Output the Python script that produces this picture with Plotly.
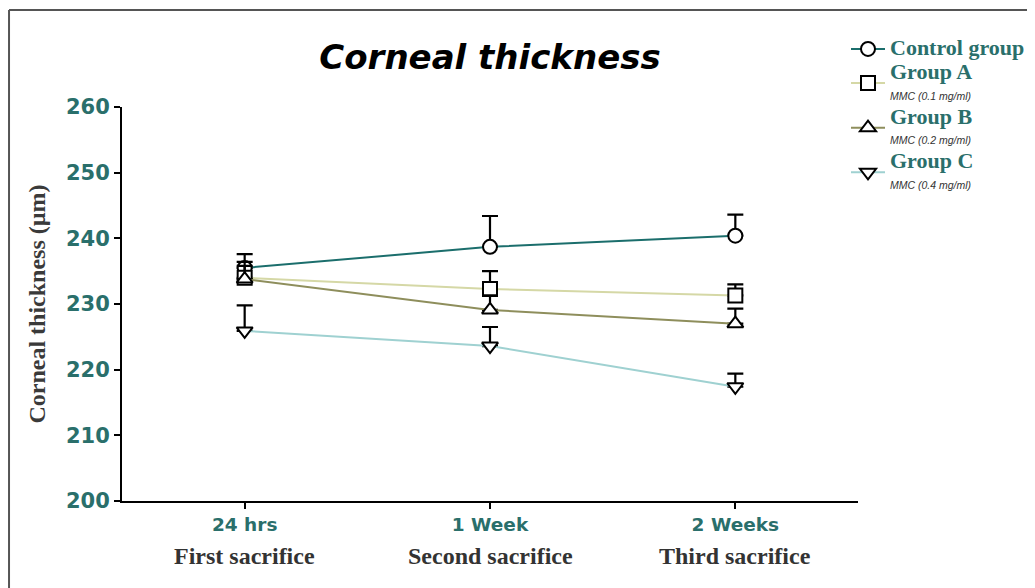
import plotly.graph_objects as go

# ---- data ----
time_points = ["24 hrs", "1 Week", "2 Weeks"]
sacrifice_labels = ["First sacrifice", "Second sacrifice", "Third sacrifice"]

control_mean = [235.5, 238.7, 240.4]
control_err = [2.1, 4.7, 3.2]
group_a_mean = [234.0, 232.3, 231.3]
group_a_err = [2.4, 2.7, 1.7]
group_b_mean = [233.8, 229.1, 227.0]
group_b_err = [2.0, 2.2, 2.3]
group_c_mean = [225.9, 223.6, 217.4]
group_c_err = [3.9, 2.9, 2.0]

series_names = ["Control group", "Group A", "Group B", "Group C"]
series_sub = ["", "MMC (0.1 mg/ml)", "MMC (0.2 mg/ml)", "MMC (0.4 mg/ml)"]
series_means = [control_mean, group_a_mean, group_b_mean, group_c_mean]
series_errs = [control_err, group_a_err, group_b_err, group_c_err]
line_colors = ["#1b6e6c", "#d5d8a6", "#8e8e5c", "#9fd1d1"]
symbols = ["circle", "square", "triangle-up", "triangle-down"]

y_ticks = [200, 210, 220, 230, 240, 250, 260]

TEAL = "#2a6f6b"
fig = go.Figure()

for name, sub, means, errs, col, sym in zip(series_names, series_sub, series_means,
                                           series_errs, line_colors, symbols):
    label = f"<span style='font-size:22px'><b>{name}</b></span>"
    if sub:
        label += ("<br><span style='font-family:Liberation Sans;font-size:10.5px;"
                  f"color:#333;font-style:italic'>{sub}</span>")
    fig.add_trace(go.Scatter(
        x=time_points, y=means, name=label, mode="lines+markers",
        line=dict(color=col, width=2),
        marker=dict(symbol=sym, size=14, color="white",
                    line=dict(color="black", width=2)),
        error_y=dict(type="data", symmetric=False, array=errs,
                     arrayminus=[0] * len(errs), color="black",
                     thickness=2.2, width=8),
    ))

for tp, lab in zip(time_points, sacrifice_labels):
    fig.add_annotation(x=tp, xref="x", y=-0.14, yref="paper", text=f"<b>{lab}</b>",
                       showarrow=False, yanchor="middle",
                       font=dict(family="Liberation Serif", size=24, color="#333333"))

# frame around the figure
fig.add_shape(type="line", xref="paper", yref="paper", x0=-0.1535, x1=-0.1535,
              y0=1.2462, y1=-0.3, line=dict(color="#555555", width=2))
fig.add_shape(type="line", xref="paper", yref="paper", x0=-0.1535, x1=1.3,
              y0=1.2462, y1=1.2462, line=dict(color="#555555", width=2))

W, H = 1027, 580
fig.update_layout(
    width=W, height=H,
    margin=dict(l=114, r=177, t=99, b=87, autoexpand=False),
    paper_bgcolor="white", plot_bgcolor="white",
    title=dict(text="Corneal thickness", x=0.5, xref="paper", xanchor="center",
               y=1 - 49 / H, yref="container", yanchor="middle",
               font=dict(family="DejaVu Sans", size=34, color="black",
                         weight="bold", style="italic")),
    showlegend=True,
    legend=dict(x=838 / W, xref="container", xanchor="left",
                y=1 - 24 / H, yref="container", yanchor="top",
                font=dict(family="Liberation Serif", size=16, color=TEAL),
                tracegroupgap=0, itemwidth=34, bgcolor="rgba(0,0,0,0)"),
    xaxis=dict(type="category", range=[-0.5, 2.5], showgrid=False, zeroline=False,
               showline=True, linecolor="black", linewidth=2,
               ticks="outside", ticklen=6, tickwidth=2, tickcolor="black",
               tickfont=dict(family="DejaVu Sans", size=18.5, color=TEAL, weight="bold")),
    yaxis=dict(range=[200, 260], tickvals=y_ticks, showgrid=False, zeroline=False,
               showline=True, linecolor="black", linewidth=2,
               ticks="outside", ticklen=6, tickwidth=2, tickcolor="black",
               tickfont=dict(family="DejaVu Sans", size=21, color=TEAL, weight="bold"),
               title=dict(text="<b>Corneal thickness (µm)</b>", standoff=14,
                          font=dict(family="Liberation Serif", size=24, color="#3a3a3a"))),
)

fig.write_html("out.html")
